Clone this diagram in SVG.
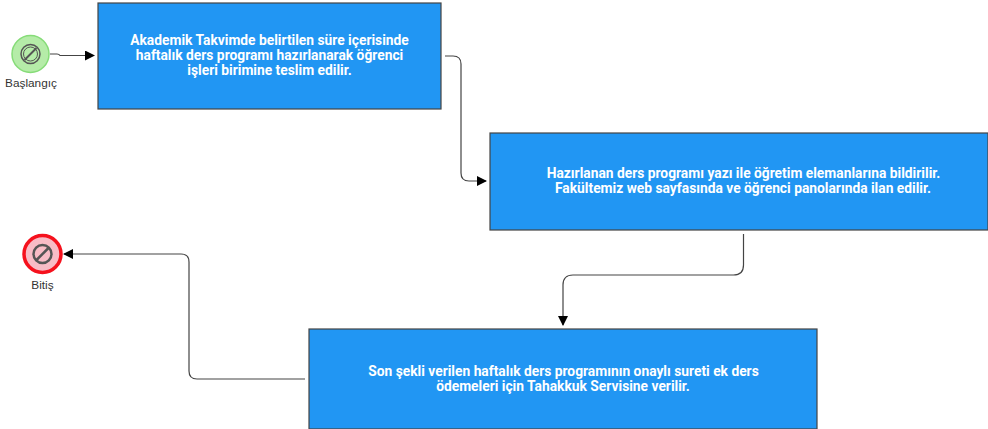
<svg xmlns="http://www.w3.org/2000/svg" width="988" height="429" viewBox="0 0 988 429">
<style>
.task{fill:#2196f3;stroke:#444;stroke-width:1.2}
.tt{font-family:Roboto,"Liberation Sans",sans-serif;font-size:13.8px;font-weight:700;fill:#fff;text-anchor:middle}
.lb{font-family:"Liberation Sans",sans-serif;font-size:11.8px;fill:#333;text-anchor:middle}
.c{fill:none;stroke:#444;stroke-width:1.2}
.sym{fill:none;stroke:#555}
</style>
<defs><marker id="a" markerWidth="10" markerHeight="10" refX="9" refY="5" orient="auto" markerUnits="userSpaceOnUse"><path d="M0 0L10 5L0 10Z" fill="#000"/></marker></defs>
<rect width="988" height="429" fill="#fff"/>
<g id="connectors">
<path class="c" marker-end="url(#a)" d="M50 54H57Q59 54 60 55.500H94"/>
<path class="c" marker-end="url(#a)" d="M445 56H453Q461 56 461 64V173Q461 181 469 181H486"/>
<path class="c" marker-end="url(#a)" d="M743.500 234V265Q743.500 275 733.500 275H573Q563 275 563 285V325"/>
<path class="c" marker-end="url(#a)" d="M305 379H197Q189 379 189 371V262Q189 254 181 254H64"/>
</g>
<g id="start"><circle cx="30.500" cy="54" r="18.500" fill="#b5eca8" stroke="#86dc78" stroke-width="1.500"/><circle cx="30.500" cy="54" r="9.500" class="sym" stroke-width="1.500"/><circle cx="30.500" cy="54" r="7" class="sym" stroke-width="1"/><path d="M24.500 60L36.500 48" class="sym" stroke-width="2"/><text class="lb" x="31" y="87">Başlangıç</text></g>
<g id="task1"><rect class="task" x="98" y="3" width="343" height="106"/><text class="tt"><tspan x="269.500" y="45">Akademik Takvimde belirtilen süre içerisinde</tspan><tspan x="269.500" y="60">haftalık ders programı hazırlanarak öğrenci</tspan><tspan x="269.500" y="75">işleri birimine teslim edilir.</tspan></text></g>
<g id="task2"><rect class="task" x="490" y="133" width="498" height="97"/><text class="tt"><tspan x="743.500" y="177.500">Hazırlanan ders programı yazı ile öğretim elemanlarına bildirilir.</tspan><tspan x="743" y="192.500">Fakültemiz web sayfasında ve öğrenci panolarında ilan edilir.</tspan></text></g>
<g id="task3"><rect class="task" x="309" y="329" width="508" height="100"/><text class="tt"><tspan x="563.500" y="376">Son şekli verilen haftalık ders programının onaylı sureti ek ders</tspan><tspan x="563" y="391">ödemeleri için Tahakkuk Servisine verilir.</tspan></text></g>
<g id="end"><circle cx="42.500" cy="254" r="18.500" fill="#f8bcc6" stroke="#f5111d" stroke-width="3.500"/><circle cx="42.500" cy="254" r="9" class="sym" stroke-width="2.500"/><path d="M36 260.500L49 247.500" class="sym" stroke-width="2.500"/><text class="lb" x="42.500" y="289">Bitiş</text></g>
</svg>
